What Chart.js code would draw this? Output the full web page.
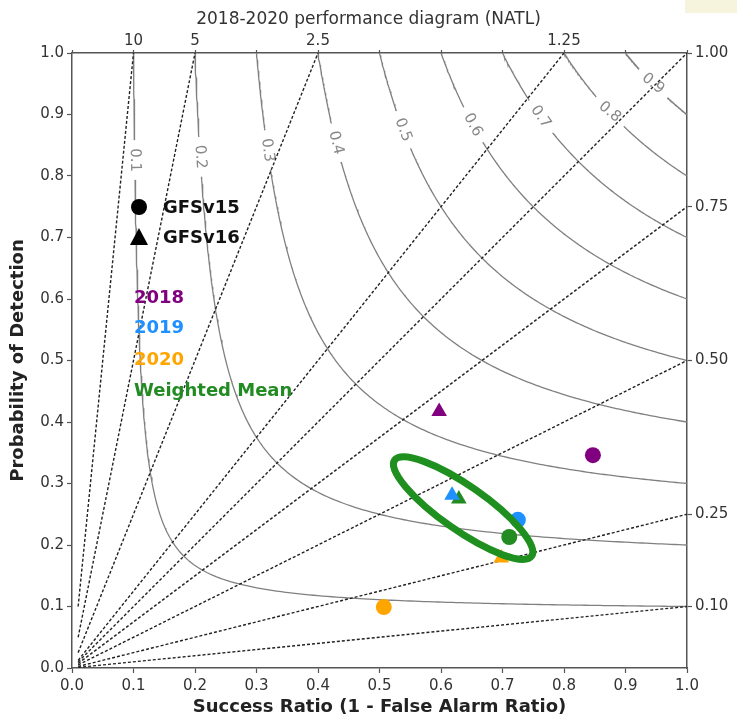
<!DOCTYPE html>
<html><head><meta charset="utf-8">
<script src="https://cdn.jsdelivr.net/npm/chart.js@4.4.1/dist/chart.umd.min.js"></script>
<style>
html,body{margin:0;padding:0;background:#fff}
#wrap{position:relative;width:737px;height:718px}
.note{position:absolute;left:685px;top:0;width:52px;height:13px;background:#f6f4dd}
</style>
</head><body>
<div id="wrap"><canvas id="c" width="737" height="718"></canvas><div class="note"></div></div>
<script>
// ---- data ----
const groups = ['2018', '2019', '2020', 'Weighted Mean'];
const groupColors = ['#800080', '#1e90ff', '#ffa500', '#228b22'];
const v15SR  = [0.847, 0.725, 0.507, 0.711];
const v15POD = [0.346, 0.241, 0.099, 0.213];
const v16SR  = [0.597, 0.618, 0.698, 0.629];
const v16POD = [0.417, 0.281, 0.179, 0.275];
const csiLevels = [0.1, 0.2, 0.3, 0.4, 0.5, 0.6, 0.7, 0.8, 0.9];
const csiLabelPOD = [0.826, 0.831, 0.842, 0.854, 0.875, 0.883, 0.896, 0.904, 0.95];
const biasLevels = [0.1, 0.25, 0.5, 0.75, 1, 1.25, 2.5, 5, 10];
const topTickLabels = {'0.1': '10', '0.2': '5', '0.4': '2.5', '0.8': '1.25'};
const rightTicks = [0.1, 0.25, 0.5, 0.75, 1.0];
const rightTickLabels = ['0.10', '0.25', '0.50', '0.75', '1.00'];
const ellipseCenter = {sr: 0.636, pod: 0.260};
const ellipseRadii = {a: 0.136, b: 0.036};

Chart.defaults.font.family = "'DejaVu Sans', sans-serif";

function csiPOD(c, sr) { return 1 / (1 / c + 1 - 1 / sr); }

const datasets = [];
csiLevels.forEach(c => {
  const pts = [];
  const N = 120;
  for (let i = 0; i <= N; i++) {
    const t = c + (1 - c) * i / N;
    pts.push({x: t, y: csiPOD(c, t)});
    pts.push({x: csiPOD(c, t), y: t});
  }
  pts.sort((a, b) => a.x - b.x || b.y - a.y);
  datasets.push({type: 'line', kind: 'csi', data: pts, borderColor: '#808080', borderWidth: 1.3,
    pointRadius: 0, showLine: true, fill: false, tension: 0, order: 3});
});
biasLevels.forEach(b => {
  const end = b >= 1 ? {x: 1 / b, y: 1} : {x: 1, y: b};
  datasets.push({type: 'line', kind: 'bias', data: [{x: 0.01, y: 0.01 * b}, end], borderColor: '#222',
    borderWidth: 1.4, borderDash: [3, 2], pointRadius: 0, showLine: true, fill: false, order: 2});
});
groups.forEach((g, i) => {
  datasets.push({type: 'scatter', label: g + ' GFSv15', data: [{x: v15SR[i], y: v15POD[i]}],
    pointStyle: 'circle', pointRadius: 8, backgroundColor: groupColors[i], borderWidth: 0, order: 1});
  datasets.push({type: 'scatter', label: g + ' GFSv16', data: [{x: v16SR[i], y: v16POD[i]}],
    pointStyle: 'triangle', pointRadius: 9, backgroundColor: groupColors[i], borderWidth: 0, order: 1});
});

let gapsDrawn = false;
const overlay = {
  id: 'overlay',
  beforeDatasetsDraw() { gapsDrawn = false; },
  beforeDatasetDraw(chart, args) {
    const ds = chart.data.datasets[args.index];
    if (ds.kind !== 'bias' || gapsDrawn) return;
    gapsDrawn = true;
    const ctx = chart.ctx, xs = chart.scales.x, ys = chart.scales.y;
    ctx.save();
    ctx.font = "15px 'DejaVu Sans'";
    ctx.textAlign = 'center';
    ctx.textBaseline = 'middle';
    csiLevels.forEach((c, i) => {
      const pod = csiLabelPOD[i];
      const sr = 1 / (1 / c + 1 - 1 / pod);
      const px = xs.getPixelForValue(sr), py = ys.getPixelForValue(pod);
      const ang = Math.atan2(pod * pod, sr * sr) * (c > 0.75 ? 0.85 : 1);
      const txt = c.toFixed(1);
      const w = ctx.measureText(txt).width + 16;
      ctx.save();
      ctx.translate(px, py);
      ctx.rotate(ang);
      ctx.fillStyle = '#fff';
      ctx.fillRect(-w / 2, -8, w, 16);
      ctx.fillStyle = '#888';
      ctx.fillText(txt, 0, 0);
      ctx.restore();
    });
    ctx.restore();
  },
  afterDatasetsDraw(chart) {
    const ctx = chart.ctx, xs = chart.scales.x, ys = chart.scales.y;
    // ellipse highlight
    ctx.save();
    const cx = xs.getPixelForValue(ellipseCenter.sr), cy = ys.getPixelForValue(ellipseCenter.pod);
    const ra = xs.getPixelForValue(ellipseRadii.a) - xs.getPixelForValue(0);
    const rb = xs.getPixelForValue(ellipseRadii.b) - xs.getPixelForValue(0);
    ctx.beginPath();
    ctx.ellipse(cx, cy, ra, rb, 35 * Math.PI / 180, 0, Math.PI * 2);
    ctx.strokeStyle = '#1f8f1f';
    ctx.lineWidth = 7;
    ctx.stroke();
    ctx.restore();
    // legend
    ctx.save();
    const L = chart.chartArea.left;
    ctx.fillStyle = '#000';
    ctx.beginPath(); ctx.arc(L + 67, 207, 8, 0, Math.PI * 2); ctx.fill();
    ctx.beginPath(); ctx.moveTo(L + 67, 228); ctx.lineTo(L + 76, 245); ctx.lineTo(L + 58, 245); ctx.closePath(); ctx.fill();
    ctx.font = "bold 18px 'DejaVu Sans'";
    ctx.textBaseline = 'middle';
    ctx.textAlign = 'left';
    ctx.fillStyle = '#111';
    ctx.fillText('GFSv15', L + 91, 208);
    ctx.fillText('GFSv16', L + 91, 238);
    const ys2 = [298, 328, 360, 391];
    groups.forEach((g, i) => {
      ctx.fillStyle = groupColors[i];
      ctx.fillText(g, L + 62, ys2[i]);
    });
    ctx.restore();
  }
};

const tickFont = {size: 15};
const axisCol = '#555';
new Chart(document.getElementById('c'), {
  type: 'scatter',
  data: {datasets},
  options: {
    responsive: false, animation: false, events: [],
    layout: {padding: {left: 0, right: 0, top: 0, bottom: 0}},
    plugins: {
      legend: {display: false}, tooltip: {enabled: false},
      title: {display: true, text: '2018-2020 performance diagram (NATL)', color: '#333',
        font: {size: 17, weight: 'normal'}, padding: {top: 9, bottom: 1}}
    },
    scales: {
      x: {type: 'linear', position: 'bottom', min: 0, max: 1,
        ticks: {stepSize: 0.1, color: '#333', font: tickFont, padding: 4, maxRotation: 0,
          callback: v => (Math.round(v * 10) / 10).toFixed(1)},
        grid: {drawOnChartArea: false, tickLength: 5, color: axisCol, tickWidth: 1.2},
        border: {color: axisCol, width: 1.5},
        title: {display: true, text: 'Success Ratio (1 - False Alarm Ratio)', color: '#222',
          font: {size: 18, weight: 'bold'}, padding: {top: 1, bottom: 0}},
        afterFit(s) { s.height = 50; }},
      x2: {type: 'linear', position: 'top', min: 0, max: 1,
        ticks: {stepSize: 0.1, color: '#333', font: tickFont, padding: 0, maxRotation: 0, autoSkip: false,
          callback: v => topTickLabels[(Math.round(v * 10) / 10).toString()] || ''},
        grid: {drawOnChartArea: false, tickLength: 3, color: axisCol, tickWidth: 1.2},
        border: {color: axisCol, width: 1.5},
        afterFit(s) { s.height = 22.6; }},
      y: {type: 'linear', position: 'left', min: 0, max: 1,
        ticks: {stepSize: 0.1, color: '#333', font: tickFont, padding: 3,
          callback: v => (Math.round(v * 10) / 10).toFixed(1)},
        grid: {drawOnChartArea: false, tickLength: 5, color: axisCol, tickWidth: 1.2},
        border: {color: axisCol, width: 1.5},
        title: {display: true, text: 'Probability of Detection', color: '#222',
          font: {size: 18, weight: 'bold'}, padding: {top: 8, bottom: 0}},
        afterFit(s) { s.width = 72; }},
      y2: {type: 'linear', position: 'right', min: 0, max: 1,
        afterBuildTicks(s) { s.ticks = rightTicks.map(v => ({value: v})); },
        ticks: {color: '#333', font: tickFont, padding: 3, autoSkip: false,
          callback: (v) => { const k = rightTicks.findIndex(t => Math.abs(t - v) < 1e-6); return k >= 0 ? rightTickLabels[k] : ''; }},
        grid: {drawOnChartArea: false, tickLength: 5, color: axisCol, tickWidth: 1.2},
        border: {color: axisCol, width: 1.5},
        afterFit(s) { s.width = 50; }}
    }
  },
  plugins: [overlay]
});
</script>
</body></html>
